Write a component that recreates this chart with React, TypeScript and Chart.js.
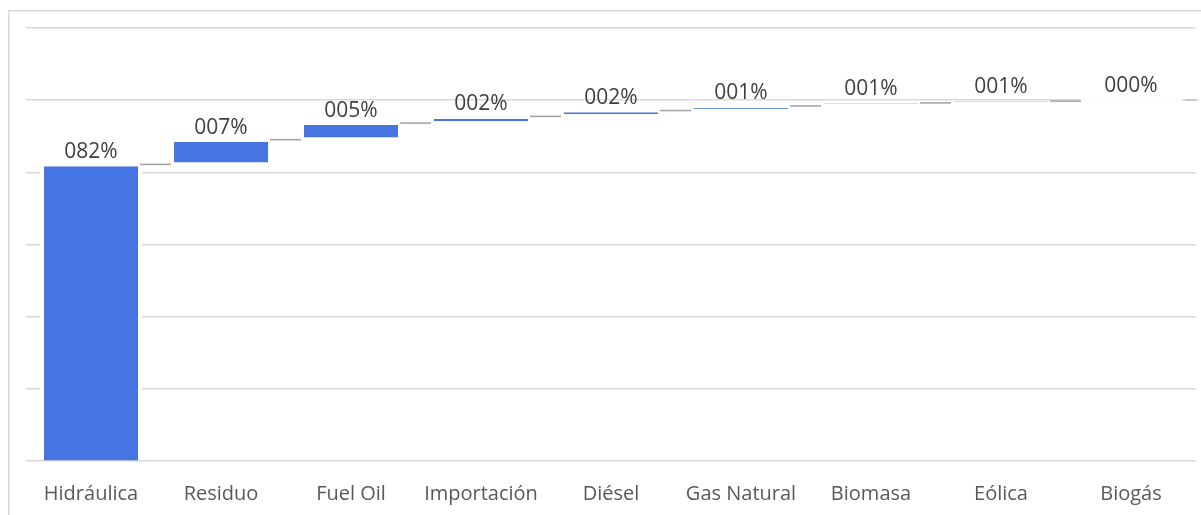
import React, { useEffect, useRef } from 'react';
import { Chart, registerables } from 'chart.js';

Chart.register(...registerables);

// ---- data ----
const categories = ['Hidráulica', 'Residuo', 'Fuel Oil', 'Importación', 'Diésel', 'Gas Natural', 'Biomasa', 'Eólica', 'Biogás'];
const barStart = [0, 82.8, 89.7, 94.2, 96.2, 97.65, 98.95, 99.5, 99.95];
const barEnd = [81.6, 88.4, 93.1, 94.8, 96.6, 97.85, 99.0, 99.55, 100.0];
const valueLabels = ['082%', '007%', '005%', '002%', '002%', '001%', '001%', '001%', '000%'];
const yMin = 0;
const yMax = 120;
const yStep = 20;

const BAR_COLOR = '#4674E1';
const CONNECTOR_COLOR = '#A6A6A6';
const GRID_COLOR = '#D9D9D9';
const FONT = "'Open Sans', 'DejaVu Sans', sans-serif";

const decorPlugin = {
  id: 'decor',
  beforeDraw(chart: any) {
    const ctx = chart.ctx;
    ctx.save();
    ctx.strokeStyle = GRID_COLOR;
    ctx.lineWidth = 1.5;
    ctx.strokeRect(8.75, 10.75, chart.width + 40, chart.height + 40);
    ctx.restore();
  },
  beforeDatasetsDraw(chart: any) {
    const ctx = chart.ctx;
    const meta = chart.getDatasetMeta(0);
    ctx.save();
    ctx.fillStyle = '#ffffff';
    meta.data.forEach((el: any, i: number) => {
      const top = Math.min(el.y, el.base) - 1;
      const bottom = barStart[i] === 0 ? Math.max(el.y, el.base) - 1 : Math.max(el.y, el.base) + 1;
      ctx.fillRect(el.x - el.width / 2 - 4, top, el.width + 8, bottom - top);
    });
    ctx.restore();
  },
  afterDatasetsDraw(chart: any) {
    const ctx = chart.ctx;
    const meta = chart.getDatasetMeta(0);
    const yScale = chart.scales.y;
    const els = meta.data;
    ctx.save();
    // connectors
    ctx.strokeStyle = CONNECTOR_COLOR;
    ctx.lineWidth = 1.6;
    for (let i = 0; i < els.length; i++) {
      const a = els[i];
      let x0 = a.x + a.width / 2 + 2;
      let x1: number;
      let v: number;
      if (i < els.length - 1) {
        const b = els[i + 1];
        x1 = b.x - b.width / 2 - 3;
        v = (barEnd[i] + barStart[i + 1]) / 2;
      } else {
        x0 += 5;
        x1 = chart.chartArea.right + 2;
        v = barEnd[i];
        ctx.strokeStyle = '#C8C8C8';
      }
      const y = yScale.getPixelForValue(v);
      ctx.beginPath();
      ctx.moveTo(x0, y);
      ctx.lineTo(x1, y);
      ctx.stroke();
    }
    // value labels
    ctx.fillStyle = '#404040';
    ctx.font = `21px ${FONT}`;
    ctx.textAlign = 'center';
    ctx.textBaseline = 'alphabetic';
    els.forEach((el: any, i: number) => {
      const top = Math.min(el.y, el.base);
      ctx.fillText(valueLabels[i], el.x, top - 8.5);
    });
    ctx.restore();
  },
};

export default function App() {
  const canvasRef = useRef<HTMLCanvasElement | null>(null);

  useEffect(() => {
    if (!canvasRef.current) return;
    const chart = new Chart(canvasRef.current, {
      type: 'bar',
      data: {
        labels: categories,
        datasets: [
          {
            data: categories.map((_, i) => [barStart[i], barEnd[i]]) as any,
            backgroundColor: BAR_COLOR,
            borderWidth: 0,
            barPercentage: 94 / 130,
            categoryPercentage: 1,
          },
        ],
      },
      options: {
        responsive: false,
        animation: false,
        events: [],
        layout: { padding: { left: 26, right: 5, top: 28, bottom: 0 } },
        plugins: {
          legend: { display: false },
          tooltip: { enabled: false },
          title: { display: false },
        },
        scales: {
          x: {
            grid: { display: false, drawTicks: false },
            border: { display: false },
            ticks: {
              padding: 21,
              color: '#595959',
              font: { family: FONT, size: 20 },
              maxRotation: 0,
              autoSkip: false,
            },
            afterFit: (scale: any) => {
              scale.height = 54;
            },
          },
          y: {
            min: yMin,
            max: yMax,
            grid: { color: GRID_COLOR, lineWidth: 1.5, drawTicks: false },
            border: { display: false },
            ticks: { display: false, stepSize: yStep },
          },
        },
      },
      plugins: [decorPlugin],
    });
    return () => chart.destroy();
  }, []);

  return (
    <div style={{ position: 'fixed', left: 0, top: 0, width: 1201, height: 515, background: '#fff' }}>
      <canvas ref={canvasRef} width={1201} height={515} style={{ display: 'block' }} />
    </div>
  );
}
